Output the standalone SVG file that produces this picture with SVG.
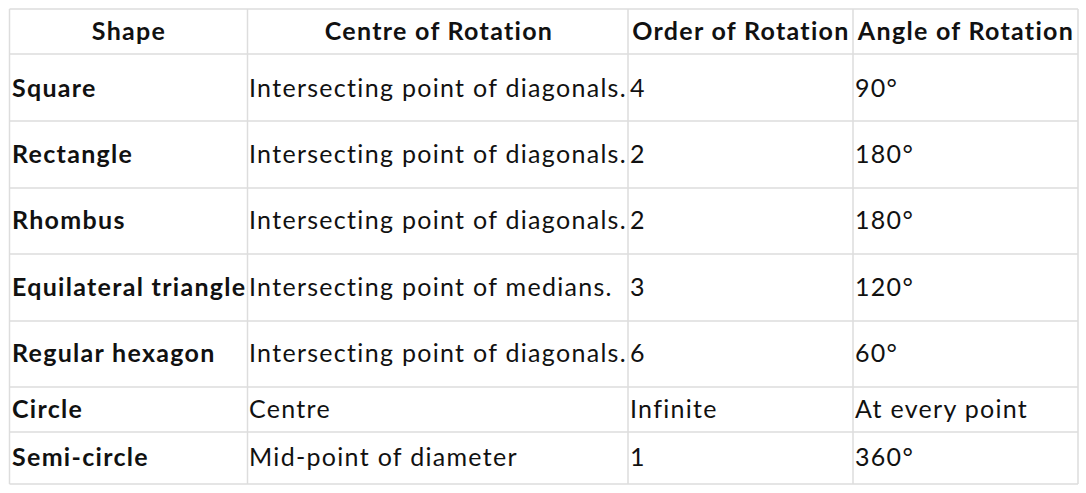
<svg xmlns="http://www.w3.org/2000/svg" width="1086" height="493" viewBox="0 0 1086 493">
<style>
.g line{stroke:#dddddd;stroke-width:1.5}
text{font-family:Lato,"Liberation Sans",sans-serif;font-size:25px;letter-spacing:1.3px;fill:#111}
.b{font-weight:bold}
.h{font-weight:bold;text-anchor:middle}
</style>
<rect width="1086" height="493" fill="#fff"/>
<g class="g" id="grid">
<line x1="9.5" y1="9" x2="1078" y2="9"/>
<line x1="9.5" y1="54" x2="1078" y2="54"/>
<line x1="9.5" y1="121" x2="1078" y2="121"/>
<line x1="9.5" y1="188" x2="1078" y2="188"/>
<line x1="9.5" y1="254" x2="1078" y2="254"/>
<line x1="9.5" y1="321" x2="1078" y2="321"/>
<line x1="9.5" y1="387" x2="1078" y2="387"/>
<line x1="9.5" y1="432" x2="1078" y2="432"/>
<line x1="9.5" y1="484" x2="1078" y2="484"/>
<line x1="9.5" y1="9" x2="9.5" y2="484"/>
<line x1="247.5" y1="9" x2="247.5" y2="484"/>
<line x1="628" y1="9" x2="628" y2="484"/>
<line x1="853" y1="9" x2="853" y2="484"/>
<line x1="1078" y1="9" x2="1078" y2="484"/>
</g>
<g id="header">
<text class="h" x="129" y="40">Shape</text>
<text class="h" x="439" y="40">Centre of Rotation</text>
<text class="h" x="741" y="40">Order of Rotation</text>
<text class="h" x="966" y="40">Angle of Rotation</text>
</g>
<g id="r1"><text class="b" x="12" y="97">Square</text><text x="249" y="97">Intersecting point of diagonals.</text><text x="630" y="97">4</text><text x="855" y="97">90°</text></g>
<g id="r2"><text class="b" x="12" y="163">Rectangle</text><text x="249" y="163">Intersecting point of diagonals.</text><text x="630" y="163">2</text><text x="855" y="163">180°</text></g>
<g id="r3"><text class="b" x="12" y="229">Rhombus</text><text x="249" y="229">Intersecting point of diagonals.</text><text x="630" y="229">2</text><text x="855" y="229">180°</text></g>
<g id="r4"><text class="b" x="12" y="296">Equilateral triangle</text><text x="249" y="296">Intersecting point of medians.</text><text x="630" y="296">3</text><text x="855" y="296">120°</text></g>
<g id="r5"><text class="b" x="12" y="362">Regular hexagon</text><text x="249" y="362">Intersecting point of diagonals.</text><text x="630" y="362">6</text><text x="855" y="362">60°</text></g>
<g id="r6"><text class="b" x="12" y="418">Circle</text><text x="249" y="418">Centre</text><text x="630" y="418">Infinite</text><text x="855" y="418">At every point</text></g>
<g id="r7"><text class="b" x="12" y="466">Semi-circle</text><text x="249" y="466">Mid-point of diameter</text><text x="630" y="466">1</text><text x="855" y="466">360°</text></g>
</svg>
